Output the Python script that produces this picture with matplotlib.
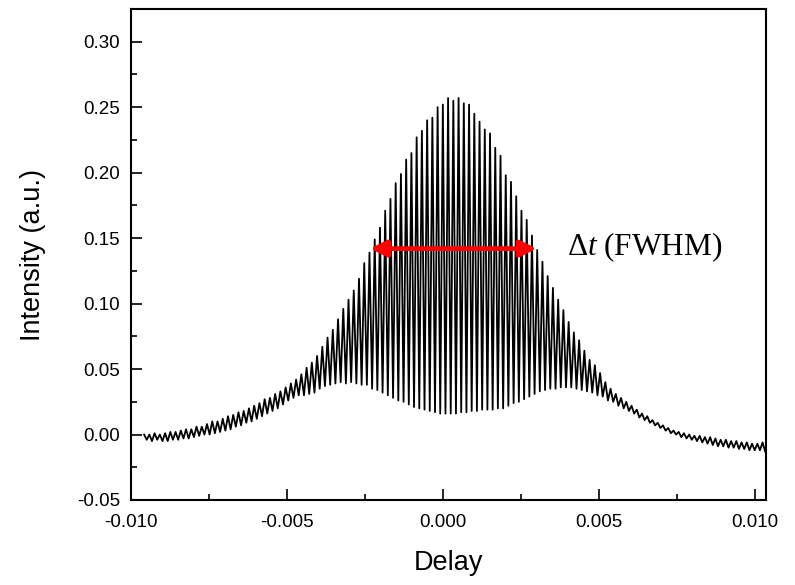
import numpy as np
import matplotlib
matplotlib.use("Agg")
import matplotlib.pyplot as plt

plt.rcParams['font.family'] = ['Liberation Sans', 'DejaVu Sans']
plt.rcParams['mathtext.fontset'] = 'custom'
plt.rcParams['mathtext.rm'] = 'Liberation Serif'
plt.rcParams['mathtext.it'] = 'Liberation Serif:italic'

# fringe maxima (one per fringe, left to right)
peak_vals = [
    0.000, 0.000, 0.001, 0.000, 0.001, 0.002, 0.002, 0.003, 0.004, 0.004,
    0.006, 0.006, 0.008, 0.010, 0.010, 0.012, 0.014, 0.015, 0.017, 0.018,
    0.020, 0.022, 0.024, 0.027, 0.028, 0.031, 0.033, 0.036, 0.039, 0.042,
    0.046, 0.051, 0.055, 0.060, 0.067, 0.074, 0.080, 0.088, 0.096, 0.103,
    0.110, 0.119, 0.131, 0.139, 0.149, 0.158, 0.171, 0.180, 0.192, 0.199,
    0.210, 0.215, 0.227, 0.232, 0.240, 0.242, 0.250, 0.252, 0.257, 0.255,
    0.257, 0.253, 0.252, 0.245, 0.239, 0.233, 0.230, 0.219, 0.213, 0.198,
    0.193, 0.182, 0.171, 0.164, 0.152, 0.141, 0.132, 0.121, 0.112, 0.103,
    0.095, 0.086, 0.078, 0.072, 0.064, 0.057, 0.053, 0.047, 0.040, 0.035,
    0.031, 0.028, 0.025, 0.022, 0.019, 0.016, 0.014, 0.011, 0.009, 0.007,
    0.005, 0.003, 0.002, 0.001, 0.000, -0.001, -0.001, -0.002, -0.002, -0.003,
    -0.004, -0.004, -0.005, -0.005, -0.006, -0.006, -0.007, -0.007, -0.006,
]

# fringe minima (the trough after each maximum)
trough_vals = [
    -0.004, -0.005, -0.004, -0.005, -0.005, -0.004, -0.004, -0.003, -0.003, -0.002,
    -0.001, 0.000, 0.000, 0.001, 0.002, 0.003, 0.004, 0.006, 0.007, 0.009,
    0.010, 0.012, 0.014, 0.016, 0.018, 0.020, 0.023, 0.026, 0.028, 0.030,
    0.030, 0.031, 0.032, 0.035, 0.037, 0.038, 0.039, 0.040, 0.039, 0.040,
    0.039, 0.038, 0.038, 0.035, 0.034, 0.032, 0.030, 0.028, 0.026, 0.025,
    0.023, 0.021, 0.020, 0.019, 0.018, 0.017, 0.016, 0.016, 0.016, 0.016,
    0.017, 0.017, 0.018, 0.018, 0.019, 0.019, 0.019, 0.020, 0.020, 0.022,
    0.024, 0.025, 0.027, 0.029, 0.031, 0.033, 0.034, 0.035, 0.035, 0.036,
    0.036, 0.036, 0.035, 0.034, 0.033, 0.032, 0.030, 0.029, 0.026, 0.025,
    0.022, 0.020, 0.018, 0.016, 0.013, 0.011, 0.009, 0.007, 0.005, 0.003,
    0.001, 0.000, -0.002, -0.003, -0.004, -0.005, -0.006, -0.007, -0.008, -0.009,
    -0.009, -0.010, -0.010, -0.011, -0.011, -0.012, -0.012, -0.012, -0.013,
]

# delay of first and last fringe maximum
delay_start = -0.00958
delay_end = 0.01024

fwhm_left = -0.00234
fwhm_right = 0.0030
fwhm_level = 0.142

n = len(peak_vals)
peak_x = np.linspace(delay_start, delay_end, n)
step = peak_x[1] - peak_x[0]
trough_x = peak_x + step / 2

delay = np.empty(2 * n)
inten = np.empty(2 * n)
delay[0::2] = peak_x
delay[1::2] = trough_x
inten[0::2] = peak_vals
inten[1::2] = trough_vals

fig = plt.figure(figsize=(7.95, 5.85), dpi=100)
ax = fig.add_axes([0.1648, 0.1453, 0.7987, 0.8393])

ax.plot(delay, inten, color='black', lw=1.3)

ax.annotate('', xy=(fwhm_left, fwhm_level), xytext=(fwhm_right, fwhm_level),
            arrowprops=dict(arrowstyle='<|-|>', color='red', lw=3.4,
                            mutation_scale=24, shrinkA=0, shrinkB=0))
ax.text(0.00396, fwhm_level + 0.001, r'$\Delta\mathit{t}$ (FWHM)', fontsize=22.5,
        va='center', ha='left', family=['Liberation Serif', 'DejaVu Serif'])

ax.set_xlim(-0.010, 0.01035)
ax.set_ylim(-0.05, 0.325)
ax.set_xticks([-0.010, -0.005, 0.000, 0.005, 0.010])
ax.set_xticklabels(['-0.010', '-0.005', '0.000', '0.005', '0.010'])
ax.set_xticks([-0.0075, -0.0025, 0.0025, 0.0075], minor=True)
ax.set_yticks([-0.05, 0.00, 0.05, 0.10, 0.15, 0.20, 0.25, 0.30])
ax.set_yticklabels(['-0.05', '0.00', '0.05', '0.10', '0.15', '0.20', '0.25', '0.30'])
ax.set_yticks([-0.025, 0.025, 0.075, 0.125, 0.175, 0.225, 0.275], minor=True)

ax.tick_params(which='both', direction='in', top=False, right=False,
               labelsize=13.5, width=1.2)
ax.tick_params(which='major', length=8)
ax.tick_params(which='minor', length=4.5)
ax.tick_params(axis='x', pad=10)
ax.tick_params(axis='y', pad=8)
for s in ax.spines.values():
    s.set_linewidth(1.5)

ax.set_xlabel('Delay', fontsize=19.5, labelpad=14)
ax.set_ylabel('Intensity (a.u.)', fontsize=19.5, labelpad=22)

fig.savefig('out.png', dpi=100)
